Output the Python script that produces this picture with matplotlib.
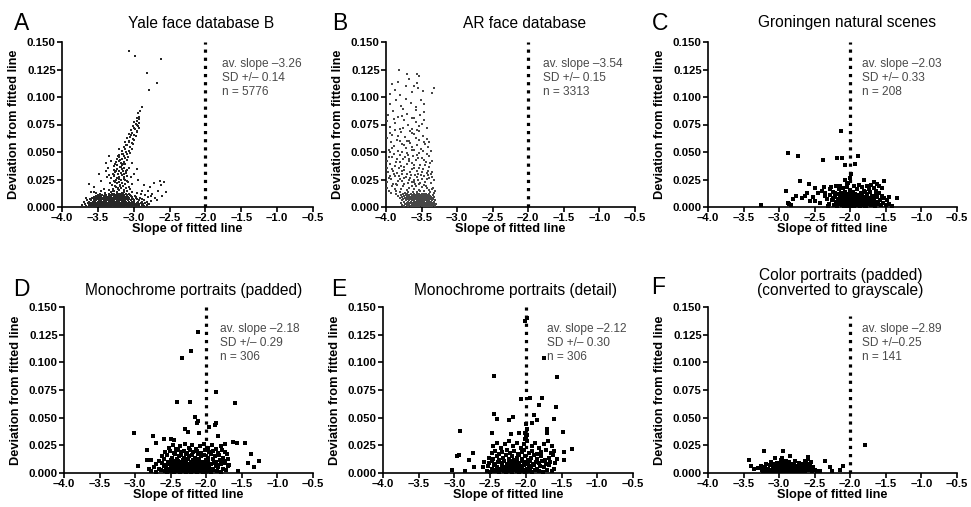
import matplotlib
matplotlib.use("Agg")
import matplotlib.pyplot as plt
import numpy as np

plt.rcParams['font.family'] = ['Liberation Sans', 'DejaVu Sans']

# ---------------- data ----------------
panel_letters = ['A', 'B', 'C', 'D', 'E', 'F']
panel_titles = ['Yale face database B', 'AR face database', 'Groningen natural scenes',
                'Monochrome portraits (padded)', 'Monochrome portraits (detail)',
                'Color portraits (padded)\n(converted to grayscale)']
stat_slope = ['av. slope \u20133.26', 'av. slope \u20133.54', 'av. slope \u20132.03',
              'av. slope \u20132.18', 'av. slope \u20132.12', 'av. slope \u20132.89']
stat_sd = ['SD +/\u2013 0.14', 'SD +/\u2013 0.15', 'SD +/\u2013 0.33',
           'SD +/\u2013 0.29', 'SD +/\u2013 0.30', 'SD +/\u20130.25']
stat_n = ['n = 5776', 'n = 3313', 'n = 208', 'n = 306', 'n = 306', 'n = 141']
x_ticks = [-4.0, -3.5, -3.0, -2.5, -2.0, -1.5, -1.0, -0.5]
x_tick_labels = ['\u20134.0', '\u20133.5', '\u20133.0', '\u20132.5', '\u20132.0', '\u20131.5', '\u20131.0', '\u20130.5']
y_ticks = [0.000, 0.025, 0.050, 0.075, 0.100, 0.125, 0.150]
y_tick_labels = ['0.000', '0.025', '0.050', '0.075', '0.100', '0.125', '0.150']
ref_slope = -2.0
ref_top = [0.150, 0.150, 0.150, 0.150, 0.150, 0.142]

# Panel A dense base (rows: deviation, slopes)
A_rows = [
    (0.001, [-3.66,-3.60,-3.56,-3.52,-3.49,-3.46,-3.43,-3.40,-3.37,-3.34,-3.31,-3.28,-3.25,-3.22,-3.19,-3.16,-3.13,-3.10,-3.06,-3.02,-2.97,-2.92,-2.86]),
    (0.002, [-3.63,-3.58,-3.54,-3.51,-3.48,-3.45,-3.42,-3.39,-3.36,-3.33,-3.30,-3.27,-3.24,-3.21,-3.18,-3.15,-3.12,-3.08,-3.04,-3.00,-2.95,-2.89,-2.82]),
    (0.003, [-3.68,-3.61,-3.57,-3.53,-3.50,-3.47,-3.44,-3.41,-3.38,-3.35,-3.32,-3.29,-3.26,-3.23,-3.20,-3.17,-3.14,-3.11,-3.07,-3.03,-2.98,-2.93,-2.87,-2.80]),
    (0.004, [-3.64,-3.59,-3.55,-3.52,-3.49,-3.46,-3.43,-3.40,-3.37,-3.34,-3.31,-3.28,-3.25,-3.22,-3.19,-3.16,-3.13,-3.09,-3.05,-3.01,-2.96,-2.90,-2.84]),
    (0.005, [-3.62,-3.57,-3.54,-3.50,-3.47,-3.44,-3.41,-3.38,-3.35,-3.32,-3.29,-3.26,-3.23,-3.20,-3.17,-3.14,-3.11,-3.07,-3.03,-2.99,-2.94,-2.88,-2.81]),
    (0.006, [-3.65,-3.60,-3.56,-3.52,-3.48,-3.45,-3.42,-3.39,-3.36,-3.33,-3.30,-3.27,-3.24,-3.21,-3.18,-3.15,-3.12,-3.08,-3.04,-2.99,-2.93,-2.86]),
    (0.007, [-3.61,-3.55,-3.51,-3.47,-3.43,-3.40,-3.37,-3.34,-3.31,-3.28,-3.25,-3.22,-3.19,-3.16,-3.13,-3.10,-3.06,-3.01,-2.95,-2.89]),
    (0.008, [-3.58,-3.53,-3.48,-3.44,-3.41,-3.38,-3.35,-3.32,-3.29,-3.26,-3.23,-3.20,-3.17,-3.14,-3.11,-3.07,-3.02,-2.97,-2.91]),
    (0.009, [-3.56,-3.50,-3.45,-3.41,-3.37,-3.34,-3.31,-3.28,-3.25,-3.22,-3.19,-3.16,-3.12,-3.08,-3.03,-2.97]),
    (0.010, [-3.53,-3.47,-3.42,-3.38,-3.34,-3.31,-3.28,-3.25,-3.22,-3.19,-3.16,-3.13,-3.09,-3.04,-2.98]),
    (0.011, [-3.50,-3.44,-3.39,-3.33,-3.29,-3.26,-3.23,-3.20,-3.17,-3.14,-3.10,-3.05]),
    (0.012, [-3.47,-3.40,-3.35,-3.30,-3.27,-3.24,-3.21,-3.18,-3.15,-3.11,-3.06]),
]
# Panel A column, diagonal streak, fringe and outliers (slope, deviation)
A_points = [
    (-3.31,0.0134),(-3.27,0.0147),(-3.24,0.0139),(-3.20,0.0152),(-3.17,0.0131),(-3.13,0.0158),(-3.09,0.0143),
    (-3.29,0.0168),(-3.25,0.0181),(-3.22,0.0163),(-3.18,0.0176),(-3.15,0.0189),(-3.11,0.0171),(-3.07,0.0184),
    (-3.30,0.0203),(-3.26,0.0195),(-3.23,0.0214),(-3.19,0.0201),(-3.16,0.0222),(-3.12,0.0208),(-3.08,0.0227),
    (-3.28,0.0236),(-3.25,0.0249),(-3.21,0.0231),(-3.18,0.0244),(-3.14,0.0257),(-3.10,0.0239),
    (-3.31,0.0268),(-3.27,0.0281),(-3.23,0.0263),(-3.20,0.0275),(-3.16,0.0289),(-3.13,0.0271),(-3.09,0.0284),
    (-3.29,0.0302),(-3.26,0.0316),(-3.22,0.0297),(-3.18,0.0309),(-3.15,0.0323),(-3.11,0.0305),
    (-3.28,0.0337),(-3.24,0.0349),(-3.21,0.0331),(-3.17,0.0344),(-3.13,0.0356),(-3.09,0.0339),
    (-3.27,0.0371),(-3.23,0.0384),(-3.19,0.0366),(-3.16,0.0379),(-3.12,0.0392),
    (-3.25,0.0405),(-3.21,0.0418),(-3.18,0.0399),(-3.14,0.0412),(-3.10,0.0425),
    (-3.24,0.0438),(-3.20,0.0451),(-3.16,0.0433),(-3.12,0.0446),(-3.08,0.0459),
    (-3.21,0.0472),(-3.17,0.0486),(-3.13,0.0467),(-3.09,0.0481),(-3.05,0.0494),
    (-3.29,0.0145),(-3.22,0.0171),(-3.14,0.0137),(-3.26,0.0226),(-3.19,0.0188),(-3.12,0.0247),(-3.28,0.0289),
    (-3.21,0.0254),(-3.14,0.0296),(-3.25,0.0331),(-3.18,0.0361),(-3.11,0.0328),(-3.26,0.0394),(-3.19,0.0427),
    (-3.15,0.0391),(-3.22,0.0462),(-3.15,0.0478),(-3.11,0.0499),
    (-3.35,0.0155),(-3.33,0.0222),(-3.34,0.0291),(-3.05,0.0163),(-3.03,0.0212),(-3.04,0.0276),(-3.06,0.0352),
    (-3.02,0.0402),(-3.36,0.0357),(-3.32,0.0420),
    (-3.17,0.0512),(-3.12,0.0526),(-3.07,0.0508),(-3.03,0.0531),(-3.14,0.0549),(-3.09,0.0563),(-3.05,0.0545),
    (-3.01,0.0571),(-3.12,0.0588),(-3.07,0.0601),(-3.03,0.0583),(-2.99,0.0607),(-3.10,0.0624),(-3.05,0.0638),
    (-3.01,0.0619),(-2.97,0.0645),(-3.07,0.0661),(-3.03,0.0676),(-2.99,0.0657),(-2.95,0.0683),(-3.04,0.0699),
    (-3.00,0.0714),(-2.96,0.0694),(-2.93,0.0722),(-3.01,0.0738),(-2.97,0.0751),(-2.94,0.0733),(-2.99,0.0772),
    (-2.95,0.0786),(-2.92,0.0767),(-2.96,0.0806),(-2.93,0.0821),(-2.94,0.0851),(-2.91,0.0872),
    (-3.20,0.0531),(-3.11,0.0567),(-3.06,0.0589),(-3.04,0.0652),(-2.98,0.0705),(-2.96,0.0747),(-2.92,0.0801),
    (-3.60,0.0135),(-3.52,0.0128),(-3.45,0.0142),(-3.40,0.0131),(-3.02,0.0138),(-2.96,0.0127),(-2.88,0.0141),
    (-2.84,0.0109),(-2.80,0.0088),(-2.76,0.0052),(-2.78,0.0031),(-3.70,0.0048),(-3.72,0.0021),(-3.67,0.0083),
    (-2.89,0.091),(-3.07,0.142),(-2.98,0.137),(-2.62,0.135),(-2.82,0.122),(-2.67,0.113),(-2.78,0.106),
    (-2.77,0.018),(-2.74,0.012),(-2.70,0.008),(-2.66,0.015),(-2.62,0.020),(-2.58,0.023),(-2.72,0.022),
    (-2.68,0.006),(-2.60,0.010),(-2.55,0.014),(-2.64,0.024),(-2.76,0.010),(-2.80,0.015),(-2.86,0.020),
    (-2.90,0.012),(-2.94,0.025),(-3.00,0.030),(-2.95,0.035),(-3.62,0.021),(-3.56,0.018),(-3.48,0.030),
    (-3.45,0.024),(-3.39,0.033),(-3.37,0.027),(-3.55,0.014),(-3.38,0.040),(-3.35,0.046),(-3.42,0.016)]

# Panel B dense base (rows) and spread (points)
B_rows = [
    (0.001, [-3.74,-3.69,-3.65,-3.62,-3.59,-3.56,-3.53,-3.50,-3.47,-3.44,-3.41,-3.38,-3.35,-3.31]),
    (0.002, [-3.77,-3.71,-3.67,-3.63,-3.60,-3.57,-3.54,-3.51,-3.48,-3.45,-3.42,-3.39,-3.36,-3.33]),
    (0.003, [-3.73,-3.68,-3.64,-3.61,-3.58,-3.55,-3.52,-3.49,-3.46,-3.43,-3.40,-3.37,-3.34,-3.30]),
    (0.004, [-3.79,-3.70,-3.66,-3.62,-3.59,-3.56,-3.53,-3.50,-3.47,-3.44,-3.41,-3.38,-3.35,-3.32]),
    (0.005, [-3.75,-3.69,-3.65,-3.61,-3.58,-3.55,-3.52,-3.49,-3.46,-3.43,-3.40,-3.37,-3.33]),
    (0.006, [-3.78,-3.72,-3.67,-3.63,-3.60,-3.57,-3.54,-3.51,-3.48,-3.45,-3.42,-3.39,-3.36,-3.31]),
    (0.007, [-3.76,-3.70,-3.65,-3.62,-3.59,-3.56,-3.53,-3.50,-3.47,-3.44,-3.41,-3.38,-3.34]),
    (0.008, [-3.81,-3.73,-3.68,-3.64,-3.61,-3.58,-3.55,-3.52,-3.49,-3.46,-3.43,-3.40,-3.36]),
    (0.009, [-3.77,-3.71,-3.66,-3.62,-3.59,-3.56,-3.53,-3.50,-3.47,-3.44,-3.41,-3.37,-3.32]),
    (0.010, [-3.83,-3.74,-3.69,-3.64,-3.60,-3.57,-3.54,-3.51,-3.48,-3.45,-3.42,-3.38]),
    (0.011, [-3.79,-3.72,-3.67,-3.62,-3.58,-3.55,-3.52,-3.49,-3.46,-3.43,-3.39,-3.34]),
    (0.012, [-3.86,-3.76,-3.70,-3.65,-3.61,-3.57,-3.53,-3.50,-3.47,-3.44,-3.40]),
]
B_points = [
    (-3.96,0.0141),(-3.88,0.0166),(-3.81,0.0134),(-3.76,0.0187),(-3.71,0.0152),(-3.67,0.0173),(-3.62,0.0139),
    (-3.58,0.0195),(-3.54,0.0158),(-3.50,0.0181),(-3.46,0.0145),(-3.42,0.0169),(-3.38,0.0137),(-3.34,0.0176),
    (-3.92,0.0189),(-3.84,0.0198),(-3.73,0.0131),(-3.64,0.0191),(-3.56,0.0133),(-3.47,0.0196),(-3.40,0.0155),
    (-3.31,0.0148),
    (-3.98,0.0226),(-3.93,0.0252),(-3.86,0.0211),(-3.82,0.0284),(-3.78,0.0237),(-3.74,0.0265),(-3.69,0.0218),
    (-3.65,0.0291),(-3.61,0.0246),(-3.57,0.0273),(-3.53,0.0207),(-3.49,0.0259),(-3.45,0.0231),(-3.41,0.0287),
    (-3.37,0.0214),(-3.33,0.0248),(-3.95,0.0279),(-3.89,0.0297),(-3.71,0.0299),(-3.63,0.0223),(-3.55,0.0241),
    (-3.47,0.0281),(-3.39,0.0266),(-3.80,0.0256),(-3.59,0.0209),(-3.66,0.0262),(-3.51,0.0295),
    (-3.97,0.0318),(-3.91,0.0347),(-3.85,0.0309),(-3.79,0.0372),(-3.74,0.0336),(-3.70,0.0391),(-3.66,0.0314),
    (-3.61,0.0358),(-3.57,0.0329),(-3.52,0.0383),(-3.48,0.0341),(-3.43,0.0306),(-3.39,0.0367),(-3.35,0.0322),
    (-3.94,0.0388),(-3.82,0.0352),(-3.63,0.0396),(-3.55,0.0303),(-3.45,0.0379),(-3.77,0.0327),(-3.88,0.0376),
    (-3.98,0.0418),(-3.92,0.0451),(-3.86,0.0409),(-3.81,0.0476),(-3.76,0.0432),(-3.71,0.0489),(-3.67,0.0414),
    (-3.62,0.0461),(-3.58,0.0427),(-3.53,0.0494),(-3.49,0.0443),(-3.44,0.0405),(-3.40,0.0468),(-3.36,0.0421),
    (-3.89,0.0483),(-3.73,0.0456),(-3.56,0.0472),(-3.95,0.0497),
    (-3.96,0.0519),(-3.89,0.0553),(-3.83,0.0508),(-3.77,0.0571),(-3.72,0.0532),(-3.66,0.0586),(-3.61,0.0514),
    (-3.56,0.0563),(-3.51,0.0527),(-3.46,0.0595),(-3.41,0.0541),(-3.37,0.0506),(-3.93,0.0589),(-3.70,0.0598),
    (-3.98,0.0623),(-3.91,0.0657),(-3.85,0.0611),(-3.79,0.0684),(-3.73,0.0638),(-3.68,0.0602),(-3.63,0.0671),
    (-3.58,0.0629),(-3.53,0.0693),(-3.48,0.0646),(-3.43,0.0615),(-3.87,0.0697),(-3.60,0.0661),
    (-3.95,0.0728),(-3.88,0.0764),(-3.81,0.0712),(-3.75,0.0789),(-3.69,0.0741),(-3.63,0.0706),(-3.58,0.0776),
    (-3.53,0.0733),(-3.47,0.0794),(-3.98,0.0785),(-3.42,0.0718),
    (-3.97,0.0834),(-3.90,0.0869),(-3.83,0.0817),(-3.76,0.0893),(-3.70,0.0846),(-3.64,0.0809),(-3.58,0.0878),
    (-3.52,0.0838),(-3.46,0.0861),
    (-3.94,0.0936),(-3.86,0.0972),(-3.79,0.0918),(-3.72,0.0985),(-3.65,0.0947),(-3.58,0.0911),(-3.51,0.0969),
    (-3.46,0.0934),
    (-3.95,0.1030),(-3.87,0.1064),(-3.80,0.1021),(-3.72,0.1097),(-3.64,0.1043),(-3.60,0.1100),(-3.55,0.1078),
    (-3.33,0.1080),(-3.36,0.1040),(-3.83,0.1138),(-3.68,0.1162),(-3.57,0.1124),(-3.70,0.1210),(-3.56,0.1210),
    (-3.53,0.1190),(-3.82,0.1250),(-3.91,0.1117),(-3.48,0.1053),
    (-3.93,0.0131),(-3.86,0.0148),(-3.79,0.0162),(-3.69,0.0139),(-3.60,0.0167),(-3.52,0.0142),(-3.44,0.0188),
    (-3.36,0.0161),(-3.33,0.0129),(-3.99,0.0172),(-3.90,0.0205),(-3.83,0.0233),(-3.75,0.0212),(-3.68,0.0244),
    (-3.60,0.0228),(-3.52,0.0219),(-3.43,0.0252),(-3.35,0.0277),(-3.96,0.0262),(-3.87,0.0284),(-3.77,0.0302),
    (-3.72,0.0276),(-3.64,0.0343),(-3.59,0.0291),(-3.50,0.0318),(-3.41,0.0331),(-3.37,0.0296),(-3.99,0.0357),
    (-3.90,0.0328),(-3.81,0.0411),(-3.74,0.0368),(-3.68,0.0437),(-3.60,0.0382),(-3.54,0.0354),(-3.46,0.0427),
    (-3.38,0.0402),(-3.96,0.0455),(-3.84,0.0439),(-3.78,0.0497),(-3.69,0.0472),(-3.64,0.0521),(-3.55,0.0449),
    (-3.48,0.0512),(-3.42,0.0479),(-3.91,0.0538),(-3.80,0.0596),(-3.74,0.0562),(-3.63,0.0547),(-3.54,0.0611),
    (-3.45,0.0574),(-3.39,0.0587),(-3.94,0.0671),(-3.83,0.0648),(-3.76,0.0715),(-3.66,0.0689),(-3.56,0.0702),
    (-3.50,0.0752),(-3.89,0.0803),(-3.78,0.0829),(-3.61,0.0812)]

C_points = [(-3.25,0.002),(-2.87,0.049),(-2.73,0.046),(-2.38,0.043),(-2.18,0.045),(-2.12,0.045),(-2.13,0.069),
    (-1.89,0.046),(-2.08,0.038),(-1.94,0.039),(-1.99,0.030),(-2.01,0.026),(-2.03,0.022),(-2.70,0.024),(-2.90,0.0145),
    (-2.58,0.021),(-2.49,0.0175),(-2.37,0.018),(-2.29,0.016),(-2.20,0.019),(-2.07,0.025),(-2.04,0.021),(-1.81,0.025),
    (-1.77,0.019),(-1.67,0.023),(-1.53,0.024),(-1.55,0.0175),(-1.35,0.0085),(-1.46,0.009),(-2.76,0.010),(-2.80,0.007),
    (-2.88,0.004),(-2.86,0.0025),(-2.64,0.010),(-2.57,0.0055),(-2.49,0.0055),(-2.45,0.013),(-2.36,0.010),(-2.33,0.007),
    (-2.84,0.0015),(-2.68,0.008),(-2.61,0.013),(-2.52,0.009),(-2.42,0.004),(-2.40,0.015),
    (-2.30,0.003),(-2.28,0.011),(-2.26,0.006),(-2.25,0.014),(-2.23,0.002),(-2.22,0.009),(-2.20,0.005),(-2.19,0.012),
    (-2.18,0.001),(-2.17,0.007),(-2.16,0.016),(-2.15,0.010),(-2.14,0.004),(-2.13,0.013),(-2.12,0.002),(-2.11,0.008),
    (-2.10,0.017),(-2.10,0.005),(-2.09,0.011),(-2.08,0.003),(-2.07,0.014),(-2.06,0.007),(-2.05,0.001),(-2.05,0.010),
    (-2.04,0.018),(-2.03,0.005),(-2.02,0.012),(-2.01,0.003),(-2.00,0.008),(-2.00,0.015),(-1.99,0.002),(-1.98,0.006),
    (-1.98,0.011),(-1.97,0.004),(-1.96,0.009),(-1.96,0.014),(-1.95,0.001),(-1.94,0.007),(-1.93,0.003),(-1.93,0.012),
    (-1.92,0.005),(-1.91,0.009),(-1.90,0.002),(-1.90,0.016),(-1.89,0.006),(-1.88,0.011),(-1.87,0.003),(-1.86,0.008),
    (-1.86,0.001),(-1.85,0.013),(-1.84,0.005),(-1.83,0.010),(-1.82,0.002),(-1.82,0.007),(-1.81,0.015),(-1.80,0.004),
    (-1.79,0.009),(-1.78,0.001),(-1.77,0.006),(-1.76,0.012),(-1.75,0.003),(-1.74,0.008),(-1.73,0.005),(-1.72,0.014),
    (-1.71,0.002),(-1.70,0.010),(-1.69,0.006),(-1.68,0.003),(-1.67,0.017),(-1.66,0.008),(-1.65,0.001),(-1.64,0.011),
    (-1.63,0.005),(-1.62,0.009),(-1.61,0.003),(-1.60,0.013),(-1.58,0.006),(-1.57,0.002),(-1.56,0.010),(-1.54,0.004),
    (-1.52,0.008),(-1.50,0.002),(-1.48,0.006),(-1.45,0.003),(-1.42,0.001),(-2.35,0.013),(-2.32,0.001),(-2.27,0.018),
    (-2.24,0.008),(-2.21,0.013),(-2.14,0.019),(-2.09,0.001),(-1.95,0.019),(-1.88,0.020),(-1.84,0.018),(-1.79,0.014),
    (-1.74,0.016),(-1.71,0.020),(-1.64,0.015),(-1.59,0.019),(-1.62,0.021),(-2.03,0.009),(-1.97,0.0005),(-1.92,0.0015),
    (-1.85,0.0035),(-1.80,0.0005),(-1.76,0.0025),(-1.70,0.0015),(-1.66,0.0045),(-2.12,0.0065),(-2.06,0.0035),(-2.16,0.0025)]

D_points = [(-2.12,0.127),(-2.21,0.110),(-2.34,0.104),(-2.41,0.064),(-2.23,0.064),(-1.87,0.073),(-1.59,0.063),
    (-2.16,0.051),(-2.11,0.047),(-2.13,0.045),(-1.96,0.042),(-1.86,0.045),(-1.88,0.043),(-2.30,0.040),(-3.02,0.036),
    (-2.75,0.033),(-2.49,0.031),(-2.46,0.030),(-2.59,0.031),(-2.26,0.037),(-2.10,0.036),(-1.84,0.033),(-1.63,0.028),
    (-1.57,0.027),(-1.46,0.027),(-2.84,0.0205),(-2.70,0.027),(-1.37,0.017),(-1.41,0.009),(-1.26,0.011),(-1.33,0.0055),
    (-1.55,0.002),(-2.96,0.006),(-2.78,0.0115),(-2.81,0.004),
    (-2.78,0.002),(-2.70,0.001),(-2.63,0.003),(-2.58,0.002),(-2.55,0.001),(-2.51,0.003),(-2.48,0.002),(-2.45,0.001),
    (-2.42,0.003),(-2.40,0.002),(-2.37,0.001),(-2.35,0.003),(-2.32,0.002),(-2.29,0.001),(-2.27,0.003),(-2.24,0.002),
    (-2.21,0.001),(-2.19,0.003),(-2.16,0.002),(-2.13,0.001),(-2.10,0.003),(-2.07,0.002),(-2.04,0.001),(-2.01,0.003),
    (-1.98,0.002),(-1.94,0.001),(-1.90,0.003),(-1.85,0.002),(-1.79,0.001),(-1.72,0.003),
    (-2.74,0.005),(-2.66,0.004),(-2.60,0.006),(-2.56,0.005),(-2.53,0.004),(-2.50,0.006),(-2.47,0.005),(-2.44,0.004),
    (-2.41,0.006),(-2.38,0.005),(-2.36,0.004),(-2.33,0.006),(-2.30,0.005),(-2.28,0.004),(-2.25,0.006),(-2.22,0.005),
    (-2.20,0.004),(-2.17,0.006),(-2.14,0.005),(-2.11,0.004),(-2.08,0.006),(-2.05,0.005),(-2.02,0.004),(-1.99,0.006),
    (-1.96,0.005),(-1.92,0.004),(-1.87,0.006),(-1.83,0.005),(-1.76,0.004),(-1.69,0.006),
    (-2.70,0.008),(-2.62,0.009),(-2.57,0.007),(-2.52,0.008),(-2.49,0.009),(-2.46,0.007),(-2.43,0.008),(-2.39,0.009),
    (-2.36,0.007),(-2.34,0.008),(-2.31,0.009),(-2.27,0.007),(-2.23,0.008),(-2.20,0.009),(-2.18,0.007),(-2.15,0.008),
    (-2.12,0.009),(-2.09,0.007),(-2.06,0.008),(-2.03,0.009),(-1.97,0.007),(-1.93,0.008),(-1.89,0.009),(-1.84,0.007),
    (-1.80,0.008),(-1.74,0.009),(-1.68,0.007),
    (-2.84,0.012),(-2.66,0.011),(-2.59,0.013),(-2.54,0.010),(-2.50,0.012),(-2.45,0.011),(-2.41,0.013),(-2.37,0.010),
    (-2.33,0.012),(-2.30,0.011),(-2.26,0.013),(-2.22,0.010),(-2.19,0.012),(-2.14,0.011),(-2.10,0.013),(-2.06,0.010),
    (-2.01,0.012),(-1.97,0.011),(-1.91,0.013),(-1.86,0.010),(-1.81,0.012),(-1.75,0.011),(-1.70,0.013),
    (-2.62,0.015),(-2.55,0.016),(-2.48,0.014),(-2.44,0.017),(-2.39,0.015),(-2.35,0.016),(-2.31,0.014),(-2.28,0.017),
    (-2.24,0.015),(-2.20,0.016),(-2.16,0.014),(-2.12,0.017),(-2.07,0.015),(-2.03,0.016),(-1.98,0.014),(-1.93,0.017),
    (-1.88,0.015),(-1.82,0.016),(-1.76,0.014),(-1.71,0.017),
    (-2.58,0.019),(-2.51,0.020),(-2.46,0.018),(-2.40,0.021),(-2.36,0.019),(-2.32,0.020),(-2.27,0.018),(-2.23,0.021),
    (-2.18,0.019),(-2.13,0.020),(-2.08,0.018),(-2.02,0.021),(-1.96,0.019),(-1.90,0.020),(-1.84,0.018),(-1.78,0.021),
    (-1.73,0.019),
    (-2.53,0.023),(-2.47,0.025),(-2.42,0.022),(-2.37,0.024),(-2.30,0.026),(-2.25,0.023),(-2.20,0.025),(-2.14,0.022),
    (-2.09,0.024),(-2.03,0.026),(-1.97,0.023),(-1.92,0.025),(-1.86,0.022),(-1.80,0.024),(-1.74,0.026),
    (-2.52,0.0015),(-2.46,0.0035),(-2.39,0.0025),(-2.34,0.0045),(-2.29,0.0035),(-2.23,0.0025),(-2.18,0.0045),
    (-2.12,0.0025),(-2.06,0.0035),(-2.00,0.0045),(-2.43,0.0065),(-2.32,0.0075),(-2.21,0.0065),(-2.10,0.0075),
    (-2.40,0.0105),(-2.28,0.0095),(-2.17,0.0105),(-2.04,0.0065)]

E_points = [(-2.01,0.137),(-1.98,0.140),(-1.75,0.104),(-2.44,0.088),(-1.56,0.087),(-1.94,0.068),(-2.07,0.067),
    (-1.77,0.068),(-1.81,0.061),(-1.58,0.060),(-2.45,0.053),(-2.40,0.049),(-2.24,0.048),(-2.18,0.051),(-1.88,0.052),
    (-1.85,0.048),(-1.91,0.045),(-1.60,0.049),(-2.92,0.038),(-2.47,0.036),(-2.21,0.035),(-2.10,0.036),(-1.71,0.040),
    (-1.70,0.036),(-1.48,0.037),(-2.74,0.018),(-2.94,0.0166),(-2.96,0.015),(-1.36,0.0215),(-1.47,0.019),(-1.46,0.0115),
    (-2.80,0.012),(-2.72,0.0055),(-3.03,0.0025),(-2.85,0.002),
    (-2.55,0.002),(-2.50,0.001),(-2.46,0.003),(-2.42,0.002),(-2.38,0.001),(-2.35,0.003),(-2.31,0.002),(-2.28,0.001),
    (-2.25,0.003),(-2.22,0.002),(-2.19,0.001),(-2.16,0.003),(-2.13,0.002),(-2.10,0.001),(-2.07,0.003),(-2.04,0.002),
    (-2.01,0.001),(-1.98,0.003),(-1.95,0.002),(-1.91,0.001),(-1.87,0.003),(-1.82,0.002),(-1.76,0.001),(-1.70,0.003),
    (-1.64,0.002),
    (-2.60,0.005),(-2.53,0.006),(-2.48,0.004),(-2.44,0.007),(-2.40,0.005),(-2.36,0.004),(-2.33,0.006),(-2.29,0.005),
    (-2.26,0.007),(-2.23,0.004),(-2.20,0.006),(-2.17,0.005),(-2.14,0.007),(-2.11,0.004),(-2.08,0.006),(-2.05,0.005),
    (-2.02,0.007),(-1.99,0.004),(-1.96,0.006),(-1.93,0.005),(-1.89,0.007),(-1.85,0.004),(-1.80,0.006),(-1.74,0.005),
    (-1.67,0.007),(-1.61,0.004),
    (-2.58,0.010),(-2.51,0.009),(-2.47,0.011),(-2.43,0.008),(-2.39,0.010),(-2.34,0.009),(-2.30,0.011),(-2.27,0.008),
    (-2.24,0.010),(-2.21,0.009),(-2.18,0.011),(-2.15,0.008),(-2.12,0.010),(-2.09,0.009),(-2.06,0.011),(-2.03,0.008),
    (-2.00,0.010),(-1.97,0.009),(-1.94,0.011),(-1.90,0.008),(-1.86,0.010),(-1.81,0.009),(-1.77,0.011),(-1.72,0.008),
    (-1.66,0.010),(-1.59,0.009),
    (-2.52,0.014),(-2.46,0.013),(-2.41,0.015),(-2.37,0.012),(-2.32,0.014),(-2.28,0.016),(-2.24,0.013),(-2.20,0.015),
    (-2.16,0.012),(-2.13,0.014),(-2.09,0.016),(-2.05,0.013),(-2.01,0.015),(-1.97,0.012),(-1.93,0.014),(-1.88,0.016),
    (-1.84,0.013),(-1.79,0.015),(-1.73,0.012),(-1.68,0.014),(-1.62,0.016),(-1.56,0.013),
    (-2.48,0.018),(-2.43,0.020),(-2.38,0.017),(-2.33,0.019),(-2.27,0.021),(-2.22,0.018),(-2.17,0.020),(-2.11,0.017),
    (-2.06,0.019),(-2.02,0.021),(-1.96,0.018),(-1.91,0.020),(-1.85,0.017),(-1.79,0.019),(-1.72,0.021),(-1.65,0.018),
    (-1.60,0.020),
    (-2.46,0.024),(-2.40,0.027),(-2.35,0.023),(-2.29,0.026),(-2.23,0.029),(-2.18,0.024),(-2.13,0.027),(-2.07,0.023),
    (-2.02,0.026),(-1.98,0.029),(-1.92,0.024),(-1.87,0.027),(-1.81,0.023),(-1.75,0.026),(-1.69,0.029),(-1.63,0.024),
    (-2.00,0.033),(-2.01,0.036),(-1.99,0.040),(-2.00,0.044),(-2.01,0.031),(-1.98,0.034),
    (-2.44,0.0015),(-2.37,0.0035),(-2.30,0.0025),(-2.24,0.0045),(-2.18,0.0035),(-2.12,0.0025),(-2.06,0.0045),
    (-2.00,0.0025),(-1.94,0.0035),(-2.34,0.0075),(-2.22,0.0085),(-2.10,0.0075),(-1.98,0.0085)]

F_points = [(-3.24,0.003),(-3.20,0.005),(-3.17,0.002),(-3.15,0.004),(-3.13,0.007),(-3.11,0.003),(-3.09,0.005),
    (-3.08,0.002),(-3.06,0.008),(-3.05,0.004),(-3.04,0.006),(-3.02,0.003),(-3.01,0.005),(-3.00,0.002),(-2.99,0.007),
    (-2.98,0.004),(-2.97,0.009),(-2.96,0.003),(-2.95,0.006),(-2.94,0.002),(-2.93,0.005),(-2.92,0.008),(-2.91,0.003),
    (-2.90,0.004),(-2.89,0.006),(-2.88,0.002),(-2.87,0.005),(-2.86,0.003),(-2.85,0.007),(-2.84,0.004),(-2.83,0.002),
    (-2.82,0.006),(-2.81,0.003),(-2.80,0.005),(-2.79,0.008),(-2.78,0.002),(-2.77,0.004),(-2.76,0.006),(-2.74,0.003),
    (-2.73,0.005),(-2.71,0.002),(-2.70,0.007),(-2.68,0.004),(-2.66,0.003),(-2.65,0.006),(-2.63,0.002),(-2.61,0.005),
    (-2.60,0.008),(-2.58,0.003),(-2.56,0.004),(-2.54,0.002),(-2.52,0.005),(-2.50,0.003),
    (-3.18,0.008),(-3.12,0.010),(-3.07,0.006),(-3.03,0.009),(-2.97,0.0115),(-2.94,0.0095),(-2.90,0.0085),(-2.86,0.010),
    (-2.83,0.0085),(-2.78,0.0105),(-2.72,0.009),(-2.67,0.0085),(-2.62,0.0095),(-2.57,0.007),
    (-3.22,0.0015),(-3.14,0.0015),(-3.05,0.0015),(-2.99,0.0025),(-2.93,0.0015),(-2.87,0.0015),(-2.81,0.0015),
    (-2.75,0.0015),(-2.69,0.0015),
    (-1.80,0.025),(-3.42,0.012),(-3.21,0.020),(-2.94,0.0196),(-2.85,0.0157),(-2.59,0.0145),(-3.06,0.014),(-3.39,0.0066),
    (-3.35,0.0036),(-3.30,0.0045),(-2.35,0.0105),(-2.47,0.002),(-2.42,0.002),(-2.28,0.005),(-2.26,0.002),(-2.14,0.003),
    (-2.10,0.006),(-3.11,0.0096),(-2.96,0.0136),(-2.90,0.0105),(-2.63,0.011),(-2.60,0.0125),(-3.26,0.0065),(-2.55,0.0095)]


def combine(rows, pts):
    xs, ys = [], []
    for dev, slopes in rows:
        for s in slopes:
            xs.append(s); ys.append(dev)
    for s, d in pts:
        xs.append(s); ys.append(d)
    return np.array(xs), np.array(ys)


panel_data = [combine(A_rows, A_points), combine(B_rows, B_points),
              combine([], C_points), combine([], D_points), combine([], E_points), combine([], F_points)]

# ---------------- layout ----------------
W, H = 971, 507
fig = plt.figure(figsize=(W / 100, H / 100), dpi=100)
fig.patch.set_facecolor('white')

boxes = [(62, 42, 313, 207), (386, 42, 635, 207), (708, 42, 957, 207),
         (64, 307, 313, 473), (383, 307, 633, 473), (708, 307, 957, 473)]
letter_pos = [(22, 23), (340, 23), (660, 23), (21, 290), (339, 290), (658, 288)]
title_offset = [19, 19, 19, 17, 17, 24]
title_shift = [14, 14, 14, 5, 8, 8]
stat_x = [-1.77, -1.80, -1.83, -1.81, -1.71, -1.83]
dot_size = [3.0, 3.4, 6.0, 6.0, 6.0, 6.0]
dot_color = ['#262626', '#474747', 'black', 'black', 'black', 'black']

for i in range(6):
    l, t, r, b = boxes[i]
    ax = fig.add_axes([l / W, 1 - b / H, (r - l) / W, (b - t) / H])
    xs, ys = panel_data[i]
    ax.scatter(xs, ys, s=dot_size[i], marker='s', color=dot_color[i], linewidths=0,
               clip_on=False, zorder=3)

    ax.plot([ref_slope, ref_slope], [0, ref_top[i]], color='black', linewidth=2.3,
            linestyle=(0, (1, 1.55)), dash_capstyle='butt', zorder=2, clip_on=False)

    ax.set_xlim(-4.0, -0.5)
    ax.set_ylim(0.0, 0.150)
    for sp in ['top', 'right']:
        ax.spines[sp].set_visible(False)
    for sp in ['left', 'bottom']:
        ax.spines[sp].set_linewidth(1.2)
    ax.set_xticks(x_ticks)
    ax.set_xticklabels(x_tick_labels)
    ax.set_yticks(y_ticks)
    ax.set_yticklabels(y_tick_labels)
    ax.tick_params(axis='both', direction='out', length=3.5, width=1.2, pad=1,
                   labelsize=8.2, color='black')
    for lab in ax.get_xticklabels() + ax.get_yticklabels():
        lab.set_fontweight('bold')

    ax.set_ylabel('Deviation from fitted line', fontsize=9.2, fontweight='bold', va='center')
    ax.yaxis.set_label_coords(-48 / (r - l), 0.5)
    ax.set_xlabel('Slope of fitted line', fontsize=9.2, fontweight='bold', va='center')
    ax.xaxis.set_label_coords(0.5, -22 / (b - t))

    ax.text(0.5 + title_shift[i] / (r - l), 1 + title_offset[i] / (b - t), panel_titles[i],
            transform=ax.transAxes, ha='center', va='center', fontsize=11.2, linespacing=1.05)

    lh = 0.0127
    for k, s in enumerate([stat_slope[i], stat_sd[i], stat_n[i]]):
        ax.text(stat_x[i], 0.130 - k * lh, s, ha='left', va='center', fontsize=8.6, color='#4a4a4a')

    lx, ly = letter_pos[i]
    fig.text(lx / W, 1 - ly / H, panel_letters[i], ha='center', va='center', fontsize=16.5)

fig.savefig('out.png', dpi=100, facecolor='white')
